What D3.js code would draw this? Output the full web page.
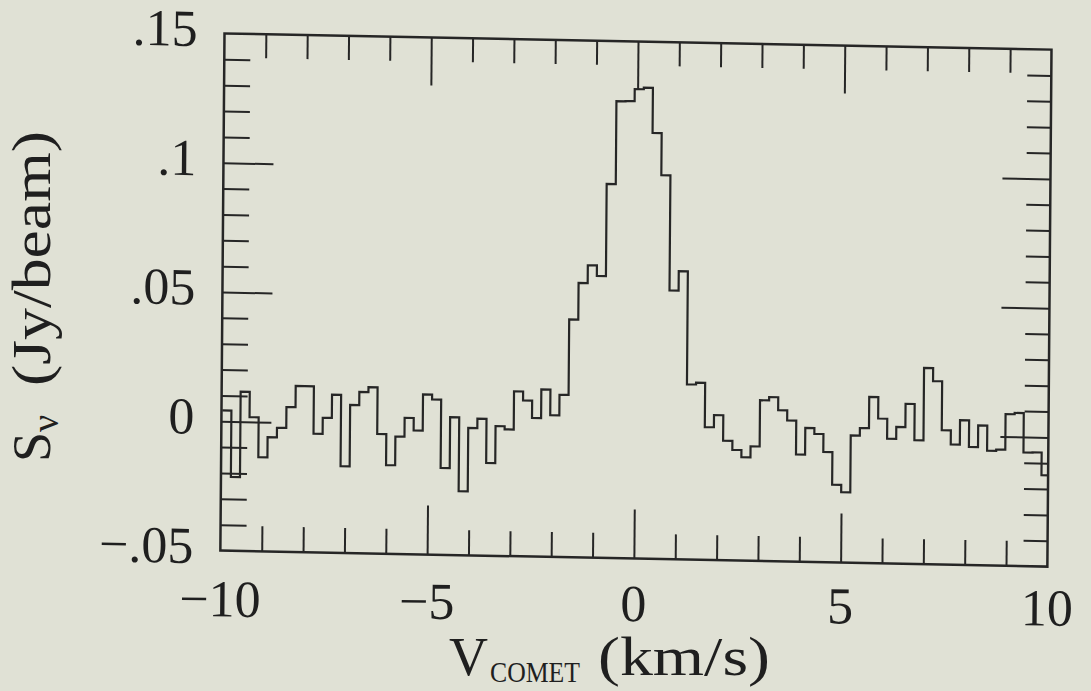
<!DOCTYPE html>
<html>
<head>
<meta charset="utf-8">
<script src="https://cdn.jsdelivr.net/npm/d3@7"></script>
<style>
  html, body { margin: 0; padding: 0; background: #e0e1d5; }
  svg { display: block; }
  text { font-family: "Liberation Serif", "DejaVu Serif", serif; fill: #1f1f1f; }
</style>
</head>
<body>
<svg id="chart" width="1091" height="691"></svg>
<script>
// channel centres (km/s)
const VEL = [
  -9.87, -9.65, -9.43, -9.21, -8.99, -8.77, -8.54, -8.32, -8.10, -7.88,
  -7.66, -7.44, -7.22, -7.00, -6.78, -6.56, -6.34, -6.12, -5.90, -5.68,
  -5.46, -5.24, -5.02, -4.80, -4.58, -4.36, -4.14, -3.92, -3.70, -3.48,
  -3.26, -3.04, -2.82, -2.60, -2.38, -2.16, -1.94, -1.72, -1.50, -1.28,
  -1.06, -0.84, -0.62, -0.40, -0.18, 0.04, 0.26, 0.48, 0.70, 0.92,
  1.14, 1.36, 1.58, 1.80, 2.02, 2.25, 2.47, 2.69, 2.91, 3.13,
  3.35, 3.57, 3.79, 4.01, 4.23, 4.45, 4.67, 4.89, 5.11, 5.33,
  5.55, 5.77, 5.99, 6.21, 6.43, 6.65, 6.87, 7.09, 7.31, 7.53,
  7.75, 7.97, 8.19, 8.41, 8.63, 8.85, 9.07, 9.29, 9.51, 9.73,
  9.95
];
// flux density per channel (Jy/beam)
const FLUX = [
  0.0042, -0.0215, 0.0116, 0.0018, -0.0136, -0.0058, -0.0021, 0.0060, 0.0142, 0.0142,
  -0.0041, 0.0021, 0.0111, -0.0165, 0.0073, 0.0124, 0.0143, -0.0037, -0.0157, -0.0046,
  0.0027, -0.0021, 0.0119, 0.0100, -0.0164, 0.0033, -0.0253, -0.0007, 0.0029, -0.0141,
  0.0002, -0.0010, 0.0138, 0.0103, 0.0036, 0.0147, 0.0048, 0.0128, 0.0420, 0.0562,
  0.0631, 0.0590, 0.0947, 0.1268, 0.1269, 0.1316, 0.1322, 0.1148, 0.0985, 0.0540,
  0.0615, 0.0178, 0.0185, 0.0014, 0.0061, -0.0037, -0.0072, -0.0100, -0.0057, 0.0122,
  0.0135, 0.0085, 0.0046, -0.0085, 0.0018, -0.0004, -0.0073, -0.0199, -0.0228, -0.0007,
  0.0022, 0.0143, 0.0060, -0.0017, 0.0029, 0.0119, -0.0021, 0.0259, 0.0209, 0.0020,
  -0.0035, 0.0060, -0.0043, 0.0041, -0.0056, -0.0051, 0.0087, 0.0092, -0.0060, -0.0059,
  -0.0147
];

const X_TICKS = [-10, -5, 0, 5, 10];
const X_LABELS = ["−10", "−5", "0", "5", "10"];
const X_MINOR = [-9, -8, -7, -6, -4, -3, -2, -1, 1, 2, 3, 4, 6, 7, 8, 9];
const Y_TICKS = [-0.05, 0, 0.05, 0.1, 0.15];
const Y_LABELS = ["−.05", "0", ".05", ".1", ".15"];
const Y_MINOR = [-0.04, -0.03, -0.02, -0.01, 0.01, 0.02, 0.03, 0.04,
                 0.06, 0.07, 0.08, 0.09, 0.11, 0.12, 0.13, 0.14];

const W = 827, H = 517;
const ink = "#262626";

let svg = d3.select("#chart");

let x = d3.scaleLinear().domain([-10, 10]).range([0, W]);
let y = d3.scaleLinear().domain([-0.05, 0.15]).range([H, 0]);

// the scanned page is a little skewed, so the plot box is too
let g = svg.append("g")
  .attr("transform", "matrix(1, 0.0195, -0.008, 1, 224.5, 33.5)");

g.append("clipPath").attr("id", "box")
  .append("rect").attr("width", W).attr("height", H);

// ticks: minor ones first, then long ones at the labelled values
function tickAxis(axis, minor, major, len, lenMajor) {
  let a = g.append("g");
  a.append("g").call(axis.tickValues(minor).tickSize(-len).tickFormat(""));
  a.append("g").call(axis.tickValues(major).tickSize(-lenMajor).tickFormat(""));
  a.selectAll(".domain").remove();
  a.selectAll("line").attr("stroke", ink).attr("stroke-width", 2);
  return a;
}

tickAxis(d3.axisBottom(x).tickSizeOuter(0), X_MINOR, [-5, 0, 5], 25, 49)
  .attr("transform", "translate(0," + H + ")");
tickAxis(d3.axisTop(x).tickSizeOuter(0), X_MINOR, [-5, 0, 5], 24, 48);
tickAxis(d3.axisLeft(y).tickSizeOuter(0), Y_MINOR, [0, 0.05, 0.1], 26, 50);
tickAxis(d3.axisRight(y).tickSizeOuter(0), Y_MINOR, [0, 0.05, 0.1], 24, 48)
  .attr("transform", "translate(" + W + ",0)");

// tick labels (the x labels sit on a slightly flatter line than the box)
svg.append("g")
  .attr("transform", "matrix(1, 0.011, -0.008, 1, 224.5, 33.5)")
  .selectAll("text").data(X_TICKS).join("text")
  .attr("x", d => x(d))
  .attr("y", H + 66)
  .attr("text-anchor", "middle")
  .style("font-size", "52px")
  .text((d, i) => X_LABELS[i]);

g.append("g").selectAll("text").data(Y_TICKS).join("text")
  .attr("x", -27)
  .attr("y", d => y(d))
  .attr("dy", "0.25em")
  .attr("text-anchor", "end")
  .style("font-size", "52px")
  .text((d, i) => Y_LABELS[i]);

// histogram spectrum
let pts = [];
VEL.forEach(function(v, i) {
  let lo = i === 0 ? v - (VEL[1] - VEL[0]) / 2 : (VEL[i - 1] + v) / 2;
  let hi = i === VEL.length - 1 ? v + (v - VEL[i - 1]) / 2 : (v + VEL[i + 1]) / 2;
  pts.push([lo, FLUX[i]], [hi, FLUX[i]]);
});
let line = d3.line().x(d => x(d[0])).y(d => y(d[1]));

g.append("path")
  .attr("d", line(pts))
  .attr("clip-path", "url(#box)")
  .style("fill", "none")
  .style("stroke", ink)
  .style("stroke-width", "2.2px")
  .style("stroke-linejoin", "miter");

// frame
g.append("rect")
  .attr("width", W).attr("height", H)
  .style("fill", "none")
  .style("stroke", ink)
  .style("stroke-width", "2.5px");

// axis titles
svg.append("text")
  .attr("x", 449).attr("y", 675)
  .style("font-size", "54px")
  .text("V");
svg.append("text")
  .attr("x", 490).attr("y", 682)
  .attr("textLength", 90)
  .attr("lengthAdjust", "spacingAndGlyphs")
  .style("font-size", "30px")
  .text("COMET");
svg.append("text")
  .attr("x", 598).attr("y", 675)
  .attr("textLength", 172)
  .attr("lengthAdjust", "spacingAndGlyphs")
  .style("font-size", "54px")
  .text("(km/s)");

let yt = svg.append("text")
  .attr("transform", "translate(50,462) rotate(-90)")
  .style("font-size", "54px");
yt.append("tspan").text("S");
yt.append("tspan").attr("dy", 8).style("font-size", "38px").text("ν");
svg.append("text")
  .attr("transform", "translate(50,386) rotate(-90)")
  .attr("textLength", 255)
  .attr("lengthAdjust", "spacingAndGlyphs")
  .style("font-size", "54px")
  .text("(Jy/beam)");
</script>
</body>
</html>
